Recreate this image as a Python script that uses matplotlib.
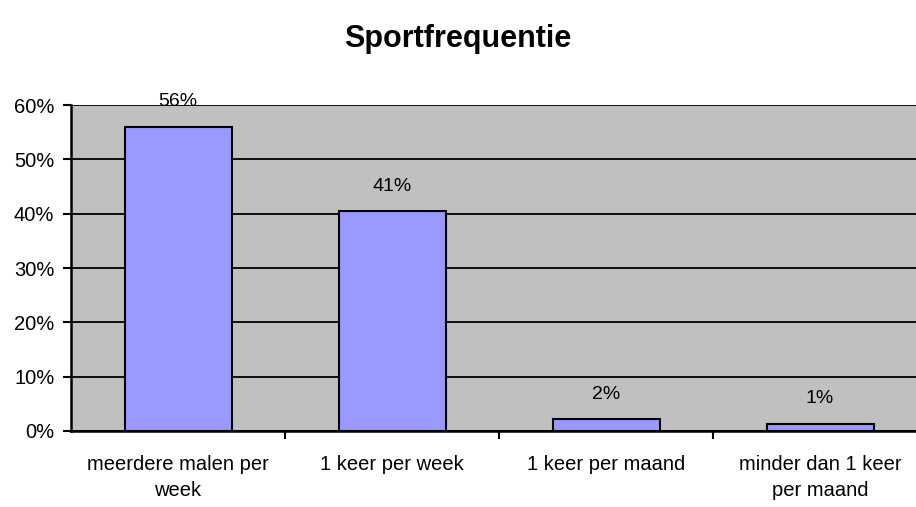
import matplotlib

matplotlib.use("Agg")
import matplotlib.pyplot as plt
import numpy as np

plt.rcParams["font.family"] = ["Liberation Sans", "DejaVu Sans"]

categories = ["meerdere malen per\nweek", "1 keer per week", "1 keer per maand", "minder dan 1 keer\nper maand"]
values = [0.56, 0.404, 0.022, 0.013]
value_labels = ["56%", "41%", "2%", "1%"]
y_ticks = [0.0, 0.1, 0.2, 0.3, 0.4, 0.5, 0.6]
y_tick_labels = ["0%", "10%", "20%", "30%", "40%", "50%", "60%"]

fig = plt.figure(figsize=(9.16, 5.07), dpi=100)
ax = fig.add_axes([71 / 916, 76 / 507, 856 / 916, 326 / 507])
ax.set_facecolor("#C0C0C0")

positions = np.arange(len(categories))
ax.bar(positions, values, width=0.5, color="#9999FF", edgecolor="black", linewidth=1.5, zorder=3)
for pos, val, lab in zip(positions, values, value_labels):
    ax.annotate(lab, (pos, val), xytext=(0, 18), textcoords="offset points",
                ha="center", va="center", fontsize=14)

ax.set_xlim(-0.5, len(categories) - 0.5)
ax.set_ylim(0, 0.6)
ax.set_yticks(y_ticks, y_tick_labels, fontsize=14.5)
ax.yaxis.grid(True, color="black", linewidth=1.3, zorder=1)
ax.set_axisbelow(True)

ax.set_xticks(positions[:-1] + 0.5, [""] * (len(categories) - 1))
ax.set_xticks(positions, categories, minor=True, fontsize=14.5, linespacing=1.5)
ax.tick_params(axis="x", which="minor", length=0, pad=17)
ax.tick_params(axis="both", which="major", length=6, width=1.5, color="black")
ax.tick_params(axis="y", pad=6)

for side in ("top", "right"):
    ax.spines[side].set_visible(False)
for side in ("left", "bottom"):
    ax.spines[side].set_linewidth(1.8)
    ax.spines[side].set_zorder(4)

fig.text(0.5, 1 - 39 / 507, "Sportfrequentie", ha="center", va="center", fontsize=22, fontweight="bold")

fig.savefig("out.png", dpi=100)
